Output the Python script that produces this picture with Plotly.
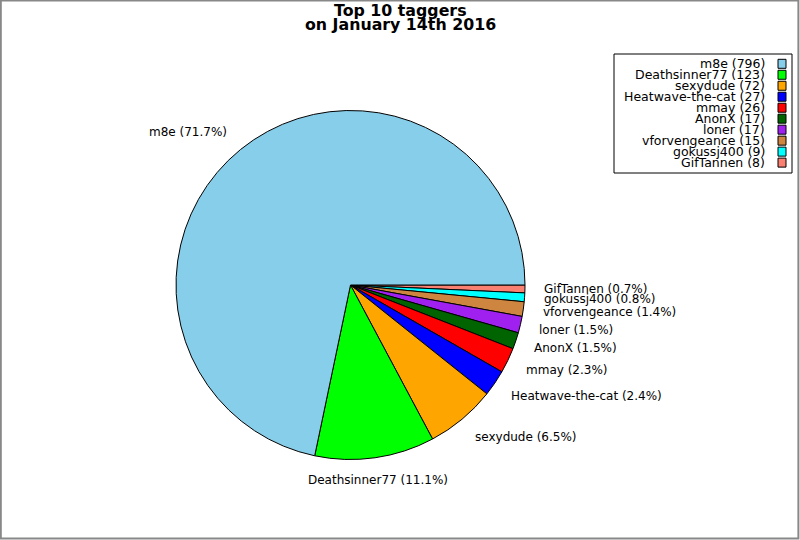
import math
import plotly.graph_objects as go

# data
names = ["m8e", "Deathsinner77", "sexydude", "Heatwave-the-cat", "mmay",
         "AnonX", "loner", "vforvengeance", "gokussj400", "GifTannen"]
counts = [796, 123, 72, 27, 26, 17, 17, 15, 9, 8]
colors = ["#87CEEB", "#00FF00", "#FFA500", "#0000FF", "#FF0000",
          "#006400", "#A020F0", "#CD853F", "#00FFFF", "#FA8072"]

W, H = 800, 540
cx, cy, r = 350.5, 285.0, 174.5   # pie centre / radius in pixels (from top-left)

fig = go.Figure()

# matplotlib style: start at 3 o'clock, counterclockwise -> reverse order, clockwise
fig.add_trace(go.Pie(
    labels=names[::-1],
    values=counts[::-1],
    marker=dict(colors=colors[::-1], line=dict(color="black", width=1)),
    sort=False,
    direction="clockwise",
    rotation=90,
    textinfo="none",
    hoverinfo="label+value+percent",
    showlegend=False,
    domain=dict(x=[(cx - r) / W, (cx + r) / W],
                y=[(H - cy - r) / H, (H - cy + r) / H]),
))

total = sum(counts)
ann = []
shapes = []

# slice labels outside the pie
start = 0.0
for name, c in zip(names, counts):
    frac = c / total
    mid = (start + frac / 2) * 2 * math.pi
    start += frac
    cs, sn = math.cos(mid), math.sin(mid)
    px = cx + 1.1 * r * cs
    py = cy - 1.13 * r * sn
    if abs(cs) < 0.2:
        xa = "center"
    elif cs > 0:
        xa = "left"
    else:
        xa = "right"
    ann.append(dict(
        x=px / W, y=1 - py / H, xref="paper", yref="paper",
        text=f"{name} ({frac * 100:.1f}%)", showarrow=False,
        xanchor=xa, yanchor="middle",
        font=dict(size=12, color="black"),
    ))

# legend (text right-aligned, swatch on the right)
shapes.append(dict(type="rect", xref="paper", yref="paper",
                   x0=614 / W, x1=792 / W, y0=1 - 54 / H, y1=1 - 173 / H,
                   line=dict(color="black", width=1), fillcolor="white"))
row0, step = 63.8, 10.98
for i, (name, c, col) in enumerate(zip(names, counts, colors)):
    yy = row0 + i * step
    ann.append(dict(
        x=767 / W, y=1 - yy / H, xref="paper", yref="paper",
        text=f"{name} ({c})", showarrow=False,
        xanchor="right", yanchor="middle",
        font=dict(size=12.5, color="black"),
    ))
    shapes.append(dict(type="rect", xref="paper", yref="paper",
                       x0=778 / W, x1=786 / W,
                       y0=1 - (yy - 4.5) / H, y1=1 - (yy + 4.5) / H,
                       line=dict(color="black", width=1), fillcolor=col))

# title, two tight lines
for txt, yy in [("Top 10 taggers", 10.5), ("on January 14th 2016", 24.5)]:
    ann.append(dict(
        x=0.5, y=1 - yy / H, xref="paper", yref="paper",
        text=f"<b>{txt}</b>", showarrow=False,
        xanchor="center", yanchor="middle",
        font=dict(size=15.8, color="black"),
    ))

# figure frame
shapes.append(dict(type="rect", xref="paper", yref="paper",
                   x0=0.001, x1=0.998, y0=0.003, y1=0.999,
                   line=dict(color="#888888", width=2)))

fig.update_layout(
    width=W, height=H,
    margin=dict(l=0, r=0, t=0, b=0),
    paper_bgcolor="white",
    plot_bgcolor="white",
    font=dict(family="DejaVu Sans, sans-serif", size=12),
    annotations=ann,
    shapes=shapes,
)

fig.write_html("out.html", config={"displayModeBar": False},
               post_script="document.body.style.margin='0';")
